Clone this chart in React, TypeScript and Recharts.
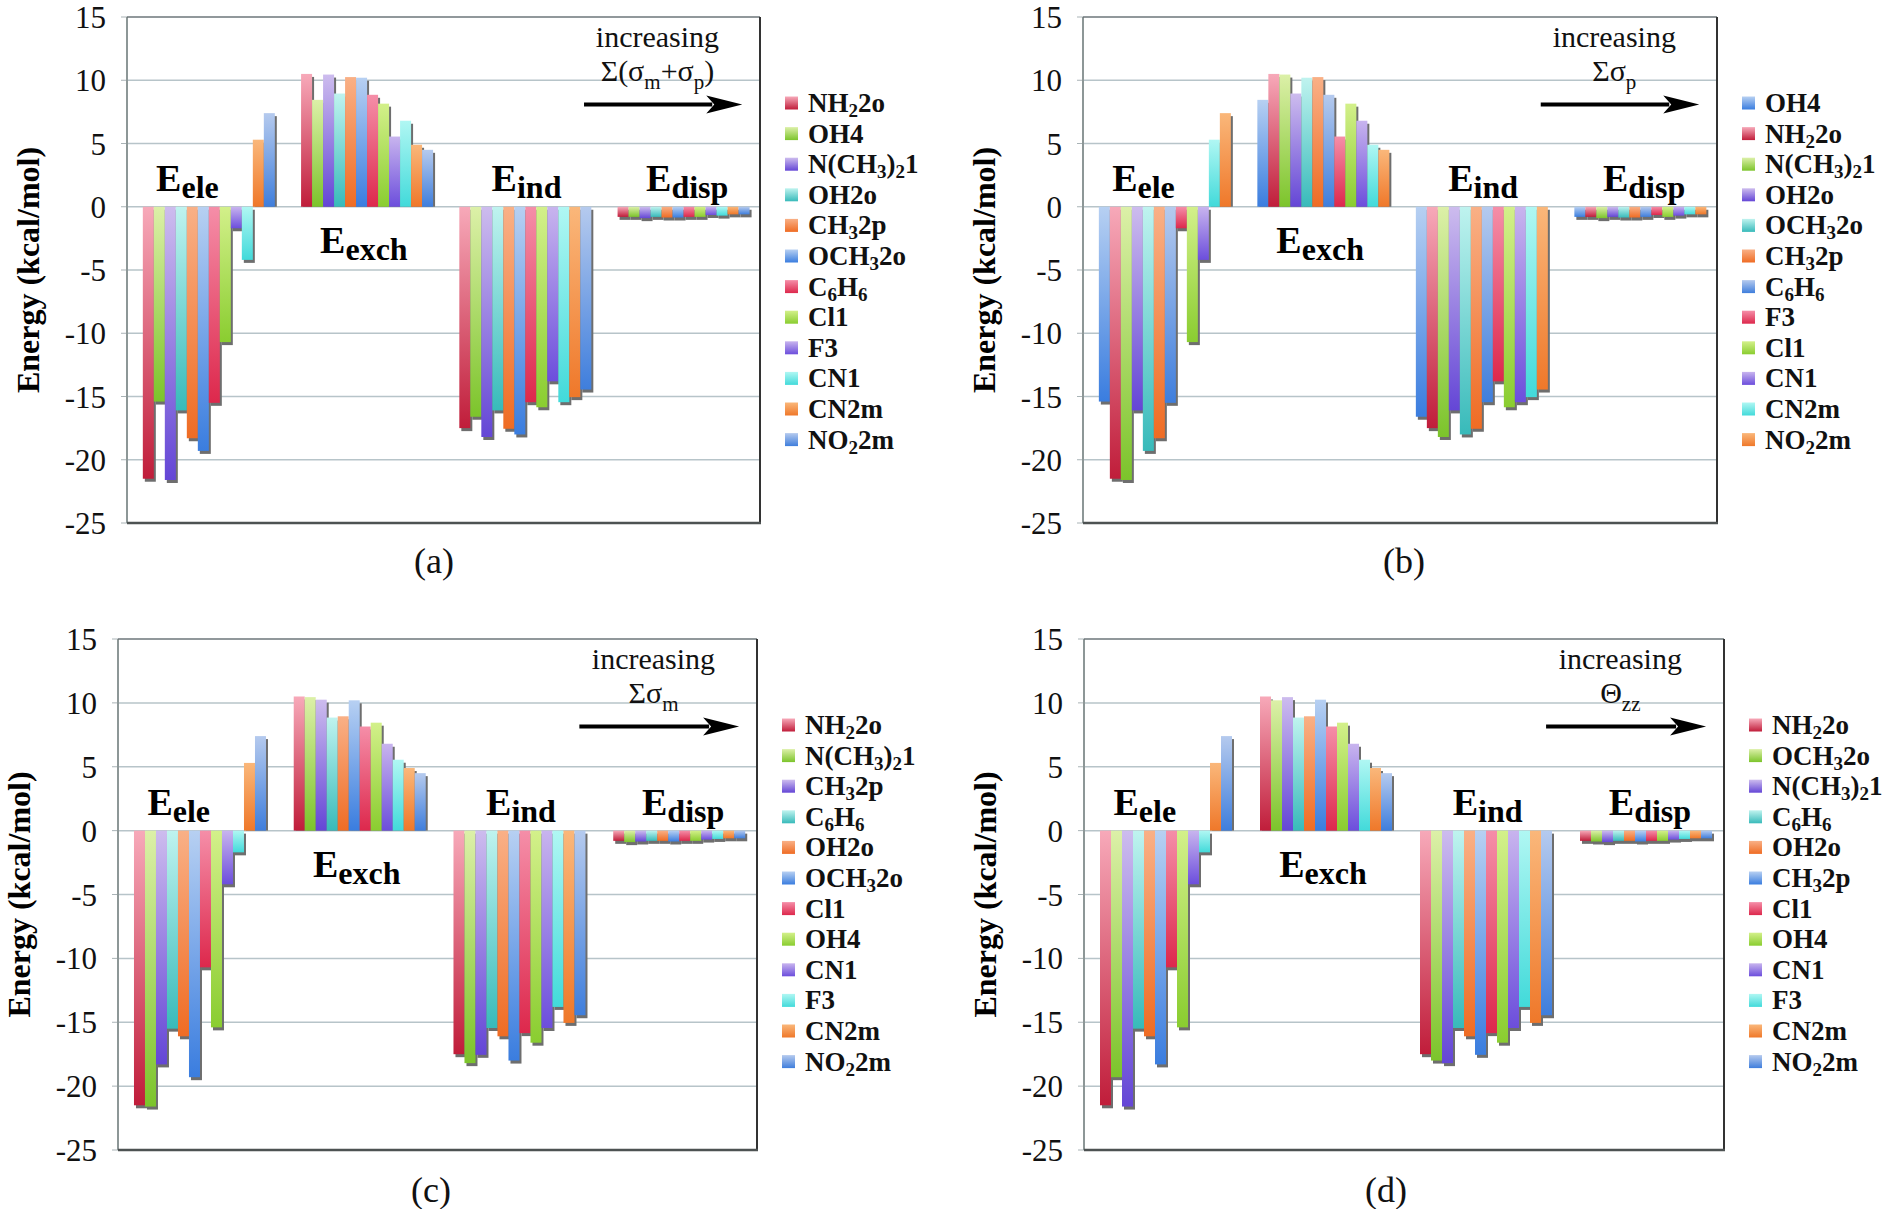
import React from 'react';
import { BarChart, Bar, XAxis, YAxis, CartesianGrid } from 'recharts';

// energy components (x categories)
const categories = ['Eele', 'Eexch', 'Eind', 'Edisp'];

// substituents, "_" marks the next character as a subscript
const substituents = ['NH_22o', 'OH4', 'N(CH_3)_21', 'OH2o', 'CH_32p', 'OCH_32o', 'C_6H_6', 'Cl1', 'F3', 'CN1', 'CN2m', 'NO_22m'];

// kcal/mol, same order as substituents
const eleValues = [-21.5, -15.4, -21.6, -16.1, -18.3, -19.3, -15.5, -10.7, -1.7, -4.2, 5.3, 7.4];
const exchValues = [10.5, 8.45, 10.45, 8.95, 10.25, 10.2, 8.85, 8.15, 5.55, 6.8, 4.9, 4.5];
const indValues = [-17.5, -16.6, -18.2, -16.1, -17.55, -18.0, -15.45, -15.85, -13.8, -15.45, -15.05, -14.45];
const dispValues = [-0.8, -0.8, -0.9, -0.8, -0.85, -0.85, -0.8, -0.8, -0.65, -0.7, -0.6, -0.6];

// ordering of the series in each panel
const orderA = ['NH_22o', 'OH4', 'N(CH_3)_21', 'OH2o', 'CH_32p', 'OCH_32o', 'C_6H_6', 'Cl1', 'F3', 'CN1', 'CN2m', 'NO_22m'];
const orderB = ['OH4', 'NH_22o', 'N(CH_3)_21', 'OH2o', 'OCH_32o', 'CH_32p', 'C_6H_6', 'F3', 'Cl1', 'CN1', 'CN2m', 'NO_22m'];
const orderC = ['NH_22o', 'N(CH_3)_21', 'CH_32p', 'C_6H_6', 'OH2o', 'OCH_32o', 'Cl1', 'OH4', 'CN1', 'F3', 'CN2m', 'NO_22m'];
const orderD = ['NH_22o', 'OCH_32o', 'N(CH_3)_21', 'C_6H_6', 'OH2o', 'CH_32p', 'Cl1', 'OH4', 'CN1', 'F3', 'CN2m', 'NO_22m'];

const yTicks = [15, 10, 5, 0, -5, -10, -15, -20, -25];

const valuesByCategory = [eleValues, exchValues, indValues, dispValues];

// top / bottom of the vertical gradient for each colour slot
const shades = [
  ['#f7a9b9', '#c01d3a'],
  ['#dcf0a8', '#7cc42b'],
  ['#cdbcee', '#6446d6'],
  ['#bff3ef', '#38baba'],
  ['#f9b086', '#ef6c24'],
  ['#b7d0f2', '#3a7ddf'],
  ['#f58ea8', '#dd284c'],
  ['#d3f08a', '#8acd30'],
  ['#c8b4ee', '#6c4edc'],
  ['#b0f7f3', '#42dada'],
  ['#fab77a', '#ef782a'],
  ['#b5caee', '#3f7edc'],
];
const slotsStd = [0, 1, 2, 3, 4, 5, 6, 7, 8, 9, 10, 11];
const slotsB = [5, 0, 1, 2, 3, 4, 11, 6, 7, 8, 9, 10];

const FONT = '"Liberation Serif", "Times New Roman", serif';

const panels = [
  { id: 'a', L: 127, R: 760, T: 17, B: 523, order: orderA, slots: slotsStd, trend: 'Σ(σ_m+σ_p)', tag: '(a)', tagX: 434, tagY: 573 },
  { id: 'b', L: 1083, R: 1717, T: 17, B: 523, order: orderB, slots: slotsB, trend: 'Σσ_p', tag: '(b)', tagX: 1404, tagY: 573 },
  { id: 'c', L: 118, R: 757, T: 639, B: 1150, order: orderC, slots: slotsStd, trend: 'Σσ_m', tag: '(c)', tagX: 431, tagY: 1202 },
  { id: 'd', L: 1084, R: 1724, T: 639, B: 1150, order: orderD, slots: slotsStd, trend: 'Θ_z_z', tag: '(d)', tagX: 1386, tagY: 1202 },
];

const buildRows = (order: string[]) =>
  categories.map((cat, ci) => {
    const row: any = { cat };
    order.forEach((name, k) => {
      row['s' + k] = valuesByCategory[ci][substituents.indexOf(name)];
    });
    return row;
  });

// split "NH_22o" into normal / subscript pieces
const splitSub = (s: string) => {
  const parts: { t: string; sub: boolean }[] = [];
  for (let i = 0; i < s.length; i++) {
    const sub = s[i] === '_';
    const ch = sub ? s[++i] : s[i];
    const last = parts[parts.length - 1];
    if (last && last.sub === sub) last.t += ch;
    else parts.push({ t: ch, sub });
  }
  return parts;
};

const RichText = ({ s, subSize, shift }: { s: string; subSize: number; shift: number }) => {
  const parts = splitSub(s);
  let down = false;
  return (
    <>
      {parts.map((p, i) => {
        let dy = 0;
        if (p.sub && !down) { dy = shift; down = true; }
        else if (!p.sub && down) { dy = -shift; down = false; }
        return (
          <tspan key={i} dy={dy} fontSize={p.sub ? subSize : undefined}>{p.t}</tspan>
        );
      })}
    </>
  );
};

const ShadowBar = (props: any) => {
  const { x, y, width, height, fill, value } = props;
  if (width == null || height == null) return null;
  const top = height < 0 ? y + height : y;
  const h = Math.abs(height);
  const neg = Array.isArray(value) ? value[1] < 0 : value < 0;
  const sh = neg ? h : Math.max(h - 3, 0);
  return (
    <g>
      <rect x={x + 2} y={top + 3} width={width} height={sh} fill="#6e6e6e" />
      <rect x={x} y={top} width={width} height={h} fill={fill} />
    </g>
  );
};

const Panel = ({ p }: { p: (typeof panels)[number] }) => {
  const rows = buildRows(p.order);
  const padL = 110;
  const padV = 30;
  return (
    <div style={{ position: 'absolute', left: p.L - padL, top: p.T - padV }}>
      <BarChart
        width={p.R - p.L + padL + 10}
        height={p.B - p.T + 2 * padV}
        data={rows}
        margin={{ top: padV, right: 10, bottom: padV, left: padL - 60 }}
        barCategoryGap="10%"
        barGap={0}
      >
        <defs>
          {shades.map((c, i) => (
            <linearGradient key={i} id={`g${p.id}${i}`} x1="0" y1="0" x2="0" y2="1">
              <stop offset="0%" stopColor={c[0]} />
              <stop offset="100%" stopColor={c[1]} />
            </linearGradient>
          ))}
        </defs>
        <CartesianGrid vertical={false} stroke="#b7c4c9" strokeWidth={1.5} />
        <XAxis dataKey="cat" hide />
        <YAxis
          width={60}
          domain={[-25, 15]}
          ticks={yTicks}
          interval={0}
          axisLine={false}
          tickLine={{ stroke: '#a9b3b6' }}
          tickSize={6}
          tickMargin={15}
          tick={{ fontSize: 31, fontFamily: FONT, fill: '#111', style: { fontFamily: FONT } }}
        />
        {p.order.map((name, k) => (
          <Bar
            key={name}
            dataKey={'s' + k}
            fill={`url(#g${p.id}${p.slots[k]})`}
            shape={(sp: any) => <ShadowBar {...sp} />}
            isAnimationActive={false}
          />
        ))}
      </BarChart>
    </div>
  );
};

const PanelDecor = ({ p }: { p: (typeof panels)[number] }) => {
  const W = p.R - p.L;
  const H = p.B - p.T;
  const zero = p.T + (H * 15) / 40;
  const ax1 = p.L + 0.722 * W;
  const ax2 = p.L + 0.972 * W;
  const ay = p.T + 87.5;
  const tx = p.L + 0.838 * W;
  const comp = [
    { s: 'ele', x: 0.046, y: zero - 16 },
    { s: 'exch', x: 0.305, y: zero + 46 },
    { s: 'ind', x: 0.576, y: zero - 16 },
    { s: 'disp', x: 0.82, y: zero - 16 },
  ];
  return (
    <g fontFamily={FONT} style={{ fontFamily: FONT }}>
      <defs>
        {shades.map((c, i) => (
          <linearGradient key={i} id={`lg${p.id}${i}`} x1="0" y1="0" x2="0" y2="1">
            <stop offset="0%" stopColor={c[0]} />
            <stop offset="100%" stopColor={c[1]} />
          </linearGradient>
        ))}
      </defs>
      {/* plot frame */}
      <line x1={p.L} y1={p.T} x2={p.L} y2={p.B} stroke="#8d9797" strokeWidth={2} />
      <line x1={p.L} y1={p.T} x2={p.R} y2={p.T} stroke="#5a5f60" strokeWidth={1.2} />
      <line x1={p.R} y1={p.T} x2={p.R} y2={p.B + 1} stroke="#333" strokeWidth={2} />
      <line x1={p.L} y1={p.B} x2={p.R + 1} y2={p.B} stroke="#4d5252" strokeWidth={2.5} />

      {comp.map((c) => (
        <text key={c.s} x={p.L + c.x * W} y={c.y} fontSize={38} fontWeight="bold" fill="#000">
          E<tspan fontSize={32} dy={7}>{c.s}</tspan>
        </text>
      ))}

      <text x={tx} y={p.T + 30} fontSize={30} textAnchor="middle" fill="#111">increasing</text>
      <text x={tx} y={p.T + 64} fontSize={30} textAnchor="middle" fill="#111">
        <RichText s={p.trend} subSize={21} shift={8} />
      </text>
      <line x1={ax1} y1={ay} x2={ax2 - 30} y2={ay} stroke="#000" strokeWidth={4} />
      <polygon points={`${ax2},${ay} ${ax2 - 36},${ay - 9} ${ax2 - 28},${ay} ${ax2 - 36},${ay + 9}`} fill="#000" />

      <text
        x={p.L - 99}
        y={(p.T + p.B) / 2}
        transform={`rotate(-90 ${p.L - 99} ${(p.T + p.B) / 2})`}
        textAnchor="middle"
        dominantBaseline="central"
        fontSize={32}
        fontWeight="bold"
        fill="#000"
      >
        Energy (kcal/mol)
      </text>

      {p.order.map((name, k) => {
        const cy = p.T + 86 + k * 30.6;
        return (
          <g key={name}>
            <rect x={p.R + 25} y={cy - 6.5} width={13} height={13} fill={`url(#lg${p.id}${p.slots[k]})`} />
            <text x={p.R + 48} y={cy + 9} fontSize={27} fontWeight="bold" fill="#111">
              <RichText s={name} subSize={19} shift={5} />
            </text>
          </g>
        );
      })}

      <text x={p.tagX} y={p.tagY} fontSize={36} textAnchor="middle" fill="#111">{p.tag}</text>
    </g>
  );
};

export default function App() {
  return (
    <div style={{ position: 'absolute', left: 0, top: 0, width: 1893, height: 1209, background: '#fff', overflow: 'hidden' }}>
      {panels.map((p) => (
        <Panel key={p.id} p={p} />
      ))}
      <svg
        width={1893}
        height={1209}
        style={{ position: 'absolute', left: 0, top: 0, pointerEvents: 'none' }}
      >
        {panels.map((p) => (
          <PanelDecor key={p.id} p={p} />
        ))}
      </svg>
    </div>
  );
}
